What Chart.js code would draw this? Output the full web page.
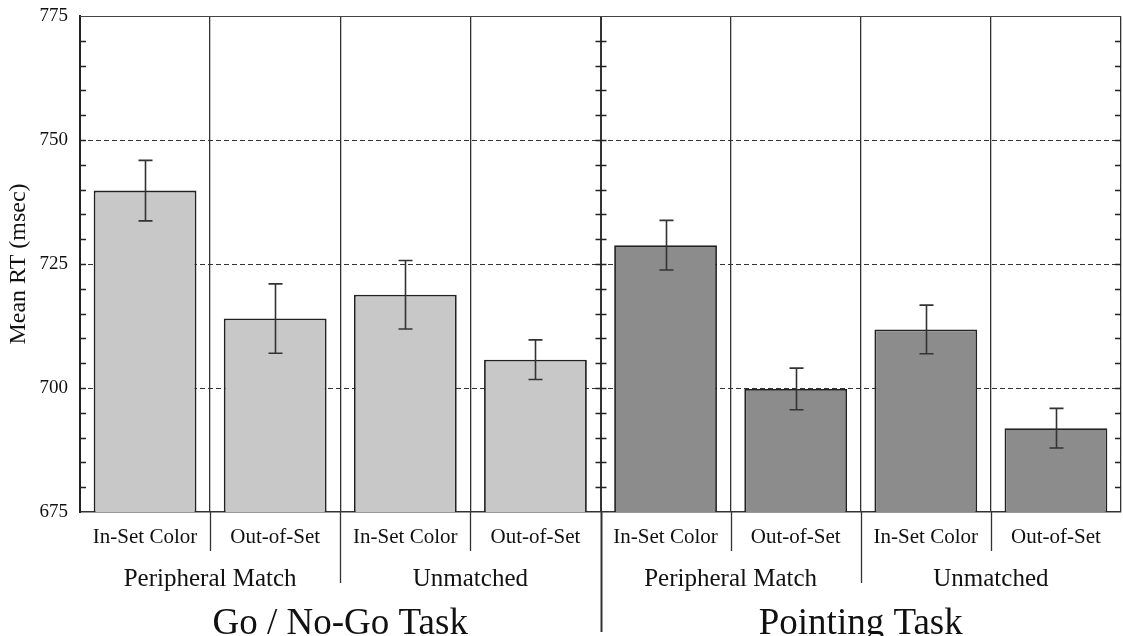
<!DOCTYPE html>
<html>
<head>
<meta charset="utf-8">
<script src="https://cdn.jsdelivr.net/npm/chart.js@4"></script>
<style>
  html, body { margin: 0; padding: 0; background: #fff; }
  #wrap { width: 1123px; height: 636px; }
</style>
</head>
<body>
<div id="wrap"><canvas id="rt-chart" width="1123" height="636"></canvas></div>
<script>
// values
var categories = ["In-Set Color", "Out-of-Set", "In-Set Color", "Out-of-Set",
                  "In-Set Color", "Out-of-Set", "In-Set Color", "Out-of-Set"];
var meanRT = [739.8, 714.0, 718.8, 705.7, 728.8, 699.8, 711.8, 691.9];
var errRT = [6.1, 7.0, 6.9, 4.0, 5.0, 4.2, 4.9, 4.0];
var groupLabels = ["Peripheral Match", "Unmatched", "Peripheral Match", "Unmatched"];
var taskLabels = ["Go / No-Go Task", "Pointing Task"];
var yTicks = [675, 700, 725, 750, 775];
var dashedLines = [700, 725, 750];

var taskColors = ["#c8c8c8", "#8c8c8c"];
var serif = "'Liberation Serif', 'Times New Roman', serif";

var ctx = document.getElementById("rt-chart").getContext("2d");

var gridBehind = {
    id: "gridBehind",
    beforeDatasetsDraw: function (chart) {
        var c = chart.ctx, area = chart.chartArea, y = chart.scales.y;
        c.save();
        c.strokeStyle = "#333";
        c.lineWidth = 1;
        c.setLineDash([5, 3]);
        dashedLines.forEach(function (v) {
            var py = Math.round(y.getPixelForValue(v)) + 0.5;
            c.beginPath();
            c.moveTo(area.left, py);
            c.lineTo(area.right, py);
            c.stroke();
        });
        c.restore();
    },
};

var extras = {
    id: "extras",
    afterDraw: function (chart) {
        var c = chart.ctx, area = chart.chartArea;
        var x = chart.scales.x, y = chart.scales.y;
        var H = chart.height;
        c.save();

        // top frame
        c.strokeStyle = "#444";
        c.lineWidth = 1;
        c.beginPath();
        c.moveTo(area.left, area.top + 0.5);
        c.lineTo(area.right, area.top + 0.5);
        c.stroke();

        var mid = (x.getPixelForValue(3) + x.getPixelForValue(4)) / 2;

        // minor ticks every 5 ms
        c.strokeStyle = "#222";
        c.lineWidth = 1.5;
        for (var v = y.min + 5; v < y.max; v += 5) {
            var py = Math.round(y.getPixelForValue(v)) + 0.5;
            c.beginPath();
            c.moveTo(area.left, py); c.lineTo(area.left + 6, py);
            c.moveTo(mid - 5, py); c.lineTo(mid + 6, py);
            c.moveTo(area.right - 6, py); c.lineTo(area.right, py);
            c.stroke();
        }

        // error bars
        c.strokeStyle = "#333";
        c.lineWidth = 1.6;
        meanRT.forEach(function (m, i) {
            var px = Math.round(x.getPixelForValue(i)) + 0.5;
            var top = y.getPixelForValue(m + errRT[i]);
            var bot = y.getPixelForValue(m - errRT[i]);
            c.beginPath();
            c.moveTo(px, top); c.lineTo(px, bot);
            c.moveTo(px - 7, top); c.lineTo(px + 7, top);
            c.moveTo(px - 7, bot); c.lineTo(px + 7, bot);
            c.stroke();
        });

        // divider extensions below the axis
        c.strokeStyle = "#333";
        for (var i = 1; i < categories.length; i++) {
            var bx = (x.getPixelForValue(i - 1) + x.getPixelForValue(i)) / 2;
            var end = i % 2 === 1 ? area.bottom + 39 : (i === 4 ? H - 4 : area.bottom + 71);
            c.lineWidth = i === 4 ? 2 : 1.3;
            c.beginPath();
            c.moveTo(Math.round(bx) + 0.5, area.bottom);
            c.lineTo(Math.round(bx) + 0.5, end);
            c.stroke();
        }

        // group and task labels
        c.fillStyle = "#111";
        c.textAlign = "center";
        c.textBaseline = "alphabetic";
        c.font = "25px " + serif;
        groupLabels.forEach(function (lab, g) {
            var cx = (x.getPixelForValue(2 * g) + x.getPixelForValue(2 * g + 1)) / 2;
            c.fillText(lab, cx, area.bottom + 74);
        });
        c.font = "37px " + serif;
        taskLabels.forEach(function (lab, t) {
            var cx = (x.getPixelForValue(4 * t) + x.getPixelForValue(4 * t + 3)) / 2;
            c.fillText(lab, cx, H - 2);
        });
        c.restore();
    },
};

var rtChart = new Chart(ctx, {
    type: "bar",
    data: {
        labels: categories,
        datasets: [{
            data: meanRT,
            backgroundColor: meanRT.map(function (_, i) { return taskColors[Math.floor(i / 4)]; }),
            borderColor: "#222",
            borderWidth: 1.8,
            barPercentage: 0.79,
            categoryPercentage: 1.0,
        }],
    },
    options: {
        responsive: false,
        animation: false,
        layout: { padding: { top: 16, right: 2, left: 0, bottom: 0 } },
        plugins: {
            legend: { display: false },
            tooltip: { enabled: false },
        },
        scales: {
            x: {
                grid: {
                    offset: true,
                    drawTicks: false,
                    color: "#333",
                    lineWidth: function (c) { return c.index === 4 ? 2 : 1.3; },
                },
                border: { display: true, color: "#333", width: 1.5 },
                ticks: {
                    color: "#111",
                    padding: 13,
                    maxRotation: 0,
                    autoSkip: false,
                    font: { family: serif, size: 21 },
                },
                afterFit: function (s) {
                    s.height = 124;
                    s.paddingLeft = 0;
                    s.paddingRight = 0;
                },
            },
            y: {
                min: yTicks[0],
                max: yTicks[yTicks.length - 1],
                grid: { display: false, drawTicks: false },
                border: { display: true, color: "#222", width: 2 },
                afterBuildTicks: function (s) {
                    s.ticks = yTicks.map(function (v) { return { value: v }; });
                },
                ticks: {
                    color: "#111",
                    padding: 12,
                    font: { family: serif, size: 19 },
                },
                title: {
                    display: true,
                    text: "Mean RT (msec)",
                    color: "#111",
                    font: { family: serif, size: 24 },
                    padding: { top: 4, bottom: 0 },
                },
                afterFit: function (s) {
                    s.width = 80;
                    s.paddingTop = 0;
                    s.paddingBottom = 0;
                },
            },
        },
    },
    plugins: [gridBehind, extras],
});
</script>
</body>
</html>
